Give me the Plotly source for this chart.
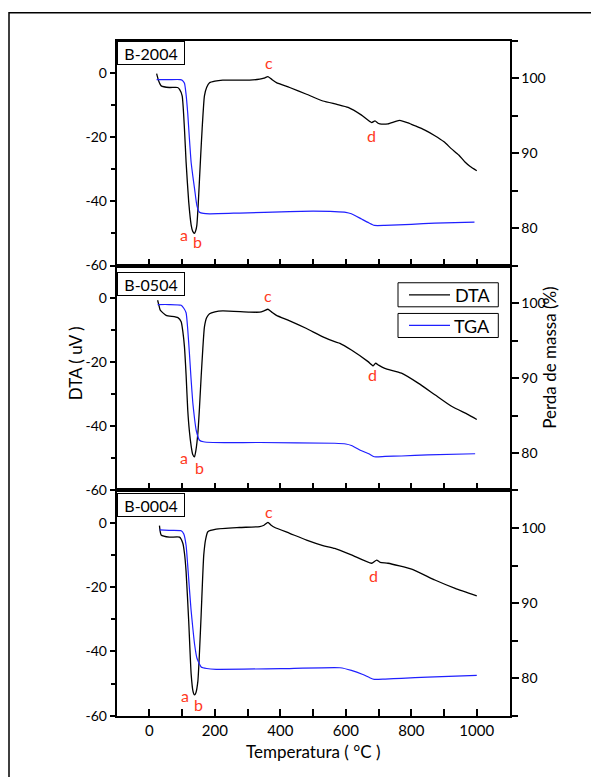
import plotly.graph_objects as go

# ---------------- data ----------------
temp_dta_2004 = [22, 28, 36, 61, 86, 92, 100, 107, 112, 120, 127.5, 132, 137.7, 141, 144.9, 149, 153, 157, 161, 168,
                 175, 183.6, 200, 224, 260, 306, 337, 350, 362, 375, 388, 428.5, 480, 530, 575, 607, 648, 679, 689,
                 700, 709, 729, 750, 765, 790, 811, 840, 872, 900, 923, 945, 964, 980, 1000]
dta_2004 = [-0.3, -2.5, -4.1, -4.6, -4.6, -5.2, -7.2, -17.5, -27.8, -40.2, -47.4, -49.3, -50.0, -49.3, -47.4, -41,
            -33, -25, -17.5, -7.2, -4.5, -3.1, -2.6, -2.3, -2.3, -2.3, -2.0, -1.7, -1.2, -2.2, -3.1, -4.6, -6.7, -8.8,
            -9.9, -10.8, -13.2, -15.5, -15.0, -15.8, -16.0, -15.9, -15.2, -14.8, -15.6, -16.5, -17.8, -19.6, -21.5,
            -23.7, -25.6, -27.8, -29.2, -30.5]
temp_tga_2004 = [22, 60, 94, 100, 107, 112, 117, 122, 127.5, 133, 138, 145, 153, 165, 184, 275, 428, 500, 566, 600,
                 617, 648, 670, 687, 719, 800, 872, 993]
tga_2004 = [99.8, 99.8, 99.8, 99.7, 99.3, 97.8, 95.3, 92, 88.7, 86.8, 85.2, 83.0, 82.1, 81.95, 81.9, 82.0, 82.2,
            82.25, 82.2, 82.1, 81.9, 81.2, 80.7, 80.35, 80.35, 80.5, 80.66, 80.8]

temp_dta_0504 = [25, 30, 33, 51, 87, 97, 102, 107, 112, 117, 122, 127.5, 132, 137.7, 142, 148, 153, 158, 163, 168,
                 175, 183.6, 200, 224, 306, 337, 350, 362, 375, 388, 428.5, 480, 530, 566, 582, 617, 668, 683.5, 691,
                 700, 719, 770, 821, 872, 923, 974, 1000]
dta_0504 = [-0.8, -2.8, -3.9, -5.5, -6.2, -7.5, -10.5, -15.3, -24, -34.9, -41.5, -46.2, -48.7, -49.5, -47.5, -42.1,
            -34, -24.6, -16, -9.1, -6.2, -5.0, -4.4, -4.1, -4.5, -4.5, -4.1, -3.6, -4.6, -5.5, -7.2, -9.6, -12.2,
            -13.7, -14.2, -16.3, -19.9, -21.2, -20.4, -21.0, -22.0, -23.5, -26.6, -30.2, -33.8, -36.4, -37.9]
temp_tga_0504 = [25, 60, 97, 105, 112, 117, 122, 127, 132.5, 138, 143, 153, 165, 194, 337, 566, 600, 617, 648, 670,
                 687, 720, 770, 850, 995]
tga_0504 = [99.8, 99.8, 99.7, 99.3, 98.7, 96.5, 93.4, 90, 86.7, 84.5, 83.0, 81.7, 81.5, 81.4, 81.4, 81.3, 81.2,
            81.0, 80.3, 79.9, 79.5, 79.55, 79.6, 79.75, 79.9]

temp_dta_0004 = [30.6, 33, 35.7, 61, 92, 102, 107, 112, 120, 127.5, 133, 137.7, 142, 148, 153, 158, 162, 166, 172,
                 178.5, 204, 275, 337, 350, 362, 372, 383, 428.5, 480, 530, 566, 617, 678.6, 694, 705, 729, 801, 872,
                 934, 1000]
dta_0004 = [-0.9, -2.8, -3.8, -4.5, -4.5, -6.4, -9.5, -15.2, -30.6, -47.1, -52.3, -53.5, -52.8, -49.2, -40, -28.6,
            -18.5, -10.0, -5.0, -2.8, -2.0, -1.5, -1.2, -0.8, 0.1, -0.8, -1.5, -3.3, -5.4, -7.1, -8.0, -10.0, -12.6,
            -11.6, -12.3, -12.6, -14.4, -17.8, -20.4, -22.7]
temp_tga_0004 = [31, 60, 97, 105, 112, 117, 122, 127, 132.5, 138, 145, 158, 175, 204, 428, 582, 617, 652, 672, 687,
                 720, 770, 850, 1000]
tga_0004 = [99.75, 99.7, 99.65, 99.2, 97.7, 95, 92, 89.2, 86.7, 84.5, 82.7, 81.5, 81.3, 81.2, 81.3, 81.4, 81.05,
            80.5, 80.1, 79.85, 79.9, 80.0, 80.15, 80.4]

sample_names = ["B-2004", "B-0504", "B-0004"]
series_names = ["DTA", "TGA"]
peak_letters = ["a", "b", "c", "d"]
peak_temp_2004 = [107, 148, 365, 679]
peak_val_2004 = [-50.2, -52.6, 3.1, -19.6]
peak_temp_0504 = [107, 153, 362, 681]
peak_val_0504 = [-49.8, -52.9, 0.7, -24.0]
peak_temp_0004 = [110, 151, 365, 683]
peak_val_0004 = [-53.8, -56.4, 3.4, -16.4]

x_ticks = [0, 200, 400, 600, 800, 1000]
x_ticktext = ["0", "200", "400", "600", "800", "1000"]
dta_ticks = [-60, -40, -20, 0]
dta_ticktext = ["-60", "-40", "-20", "0"]
tga_ticks = [80, 90, 100]
tga_ticktext = ["80", "90", "100"]

# ---------------- layout helpers ----------------
W, H = 591, 777
FONT = "Lato"
RED = "#ff3a1e"
BLUE = "#1f1fff"
COLORS = ["black", BLUE]

X_DOM = [116.7 / W, 509.5 / W]
panel_px = [(41, 268.3), (268.3, 495.6), (495.6, 723.3)]   # (top, bottom) in pixels from the top
doms = [[(H - b) / H, (H - t) / H] for t, b in panel_px]


def px(x):
    return x / W


def py(y):
    return (H - y) / H


panels = [
    (sample_names[0], temp_dta_2004, dta_2004, temp_tga_2004, tga_2004, peak_temp_2004, peak_val_2004, 41.7),
    (sample_names[1], temp_dta_0504, dta_0504, temp_tga_0504, tga_0504, peak_temp_0504, peak_val_0504, 275.0),
    (sample_names[2], temp_dta_0004, dta_0004, temp_tga_0004, tga_0004, peak_temp_0004, peak_val_0004, 497.7),
]

fig = go.Figure()
annotations = []
shapes = []
layout = dict()

axis_font = dict(family=FONT, size=14, color="black")

for i, (name, td, vd, tt, vt, pt, pv, box_top) in enumerate(panels):
    xi = 3 - i              # top panel uses x3, bottom uses x
    xname = "x" if xi == 1 else f"x{xi}"
    ly = 2 * xi - 1
    ry = 2 * xi
    lyname = "y" if ly == 1 else f"y{ly}"
    ryname = f"y{ry}"

    fig.add_trace(go.Scatter(x=td, y=vd, mode="lines", name=series_names[0], xaxis=xname, yaxis=lyname,
                             line=dict(color=COLORS[0], width=1.3, shape="spline", smoothing=0.5),
                             showlegend=False))
    fig.add_trace(go.Scatter(x=tt, y=vt, mode="lines", name=series_names[1], xaxis=xname, yaxis=ryname,
                             line=dict(color=COLORS[1], width=1.2, shape="spline", smoothing=0.5),
                             showlegend=False))

    xkey = "xaxis" if xi == 1 else f"xaxis{xi}"
    layout[xkey] = dict(
        domain=X_DOM, anchor=lyname, range=[-100, 1100],
        tickvals=x_ticks, ticktext=x_ticktext, ticks="inside", ticklen=7, tickwidth=1.5, tickcolor="black",
        minor=dict(dtick=100, tick0=0, ticks="inside", ticklen=7, tickwidth=1.5, tickcolor="black"),
        showticklabels=(xi == 1), tickfont=dict(family=FONT, size=15, color="black"),
        showline=True, linewidth=2, linecolor="black", mirror=True,
        showgrid=False, zeroline=False,
    )
    if xi != 1:
        layout[xkey]["matches"] = "x"

    lykey = "yaxis" if ly == 1 else f"yaxis{ly}"
    layout[lykey] = dict(
        domain=doms[i], anchor=xname, range=[-60, 10],
        tickvals=dta_ticks, ticktext=dta_ticktext, ticks="outside", ticklen=5, tickwidth=1.5, tickcolor="black",
        minor=dict(tickvals=[-50, -30, -10], ticks="outside", ticklen=4, tickwidth=1.5, tickcolor="black"),
        tickfont=axis_font, showline=True, linewidth=2, linecolor="black",
        showgrid=False, zeroline=False,
    )
    layout[f"yaxis{ry}"] = dict(
        overlaying=lyname, side="right", anchor=xname, range=[75, 105],
        tickvals=tga_ticks, ticktext=tga_ticktext, ticks="outside", ticklen=7, tickwidth=1.5, tickcolor="black",
        minor=dict(tickvals=[75, 85, 95, 105], ticks="outside", ticklen=6, tickwidth=1.5, tickcolor="black"),
        tickfont=axis_font, showline=True, linewidth=2, linecolor="black",
        showgrid=False, zeroline=False, ticklabelstandoff=0,
    )

    # sample label box
    annotations.append(dict(
        text=name, xref="paper", yref="paper", x=X_DOM[0], y=py(box_top),
        xanchor="left", yanchor="top", showarrow=False,
        font=dict(family=FONT, size=16, color="black"),
        bordercolor="black", borderwidth=1, borderpad=1, width=64, height=20,
        bgcolor="white",
    ))
    # peak letters
    for letter, px_, pv_ in zip(peak_letters, pt, pv):
        annotations.append(dict(
            text=letter, xref=xname, yref=lyname, x=px_, y=pv_, showarrow=False,
            xanchor="center", yanchor="middle",
            font=dict(family=FONT, size=16, color=RED),
        ))

# legend (two separate framed entries, as in the reference)
legend_boxes = [(285.7, 310.0), (316.7, 341.0)]
for (top, bot), sname, col in zip(legend_boxes, series_names, COLORS):
    mid = (top + bot) / 2
    shapes.append(dict(type="rect", xref="paper", yref="paper", x0=px(398), x1=px(498.3), y0=py(bot), y1=py(top),
                       line=dict(color="black", width=1), fillcolor="white", layer="above"))
    shapes.append(dict(type="line", xref="paper", yref="paper", x0=px(409), x1=px(450), y0=py(mid), y1=py(mid),
                       line=dict(color=col, width=1.2), layer="above"))
    annotations.append(dict(text=sname, xref="paper", yref="paper", x=px(492), y=py(mid + 0.5),
                            xanchor="right", yanchor="middle", showarrow=False,
                            font=dict(family=FONT, size=18, color="black")))

# axis titles
annotations.append(dict(text="DTA ( uV )", xref="paper", yref="paper", x=px(75), y=py(367),
                        xanchor="center", yanchor="middle",
                        textangle=-90, showarrow=False, font=dict(family=FONT, size=17, color="black")))
annotations.append(dict(text="Perda de massa (%)", xref="paper", yref="paper", x=px(550), y=py(361.5),
                        xanchor="center", yanchor="middle",
                        textangle=-90, showarrow=False, font=dict(family=FONT, size=17, color="black")))
annotations.append(dict(text="Temperatura ( °C )", xref="paper", yref="paper", x=px(313), y=py(759),
                        xanchor="center", yanchor="middle",
                        showarrow=False, font=dict(family=FONT, size=17, color="black")))

# outer frame
shapes.append(dict(type="rect", xref="paper", yref="paper", x0=px(9), x1=1.2, y0=-0.2, y1=py(13),
                   line=dict(color="black", width=1.5), layer="below"))

fig.update_layout(
    width=W, height=H, autosize=False,
    margin=dict(l=0, r=0, t=0, b=0),
    paper_bgcolor="white", plot_bgcolor="white",
    annotations=annotations,
    shapes=shapes,
    showlegend=False,
    **layout,
)

fig.write_html("out.html",
               config={"displayModeBar": False},
               post_script="document.body.style.margin='0';document.body.style.padding='0';"
                           "document.body.style.overflow='hidden';")
